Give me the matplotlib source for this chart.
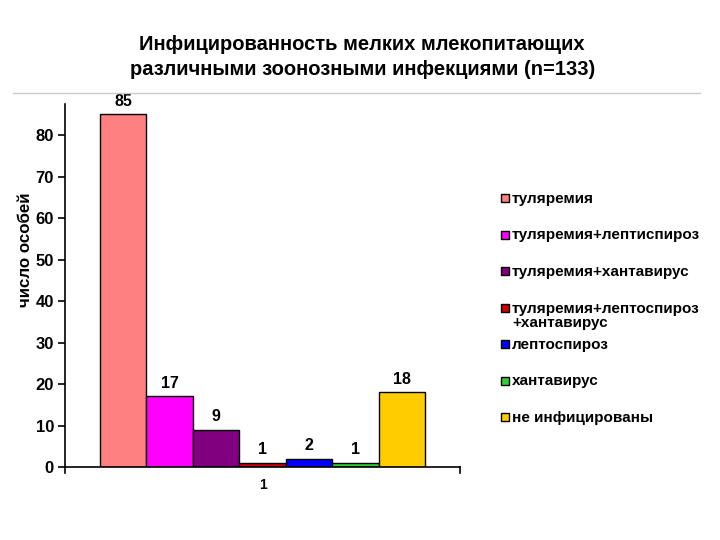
import matplotlib.pyplot as plt
from matplotlib.lines import Line2D
from matplotlib.patches import Rectangle

plt.rcParams['font.family'] = ['Liberation Sans', 'DejaVu Sans']
plt.rcParams['font.weight'] = 'bold'

categories = ["туляремия",
              "туляремия+лептиспироз",
              "туляремия+хантавирус",
              "туляремия+лептоспироз\n+хантавирус",
              "лептоспироз",
              "хантавирус",
              "не инфицированы"]
values = [85, 17, 9, 1, 2, 1, 18]
colors = ["#FF8080", "#FF00FF", "#800080", "#CC0000", "#0000FF", "#33CC33", "#FFCC00"]
yticks = [0, 10, 20, 30, 40, 50, 60, 70, 80]

fig = plt.figure(figsize=(7.2, 5.4), dpi=100)
ax = fig.add_axes([0.0903, 0.1352, 0.5486, 0.672])

for i, (cat, val, col) in enumerate(zip(categories, values, colors)):
    ax.bar(i, val, width=1.0, color=col, edgecolor="black", linewidth=1, label=cat)
    ax.text(i, val + 1.3, str(val), ha="center", va="bottom", fontsize=11.5, fontweight="bold")

ax.set_xlim(-1.25, 7.25)
ax.set_ylim(0, 87.5)
ax.set_yticks(yticks)
ax.set_yticklabels([str(t) for t in yticks], fontsize=12, fontweight="bold")
ax.set_xticks([3])
ax.set_xticklabels(["1"], fontsize=10, fontweight="bold")
ax.tick_params(axis="x", length=0, pad=8)
ax.tick_params(axis="y", length=5, width=1.2, direction="out", pad=3)
for side in ["top", "right"]:
    ax.spines[side].set_visible(False)
for side in ["left", "bottom"]:
    ax.spines[side].set_linewidth(1.2)
# small end ticks on the category axis
ax.plot([-1.25, -1.25], [0, -1.5], color="black", lw=1.2, clip_on=False)
ax.plot([7.25, 7.25], [0, -1.5], color="black", lw=1.2, clip_on=False)

ax.set_ylabel("число особей", fontsize=12.2, fontweight="bold", va="center")
ax.yaxis.set_label_coords(-0.099, 0.598)

fig.text(0.503, 0.918, "Инфицированность мелких млекопитающих", ha="center", va="center",
         fontsize=14.5, fontweight="bold")
fig.text(0.503, 0.872, "различными зоонозными инфекциями (n=133)", ha="center", va="center",
         fontsize=14.5, fontweight="bold")
fig.add_artist(Line2D([0.018, 0.972], [0.828, 0.828], color="#CCCCCC", lw=1))

# legend drawn entry by entry (Excel-style, multi-line entry does not shift the others)
leg_top = 198
leg_step = 36.5
for k, (cat, col) in enumerate(zip(categories, colors)):
    yc = 1 - (leg_top + k * leg_step) / 540
    fig.add_artist(Rectangle((501 / 720, yc - 4 / 540), 8 / 720, 8 / 540,
                             facecolor=col, edgecolor="black", lw=1, transform=fig.transFigure))
    fig.text(512 / 720, yc + 6 / 540, cat, ha="left", va="top", fontsize=11,
             fontweight="bold", linespacing=1.05)

fig.savefig("out.png", dpi=100)
